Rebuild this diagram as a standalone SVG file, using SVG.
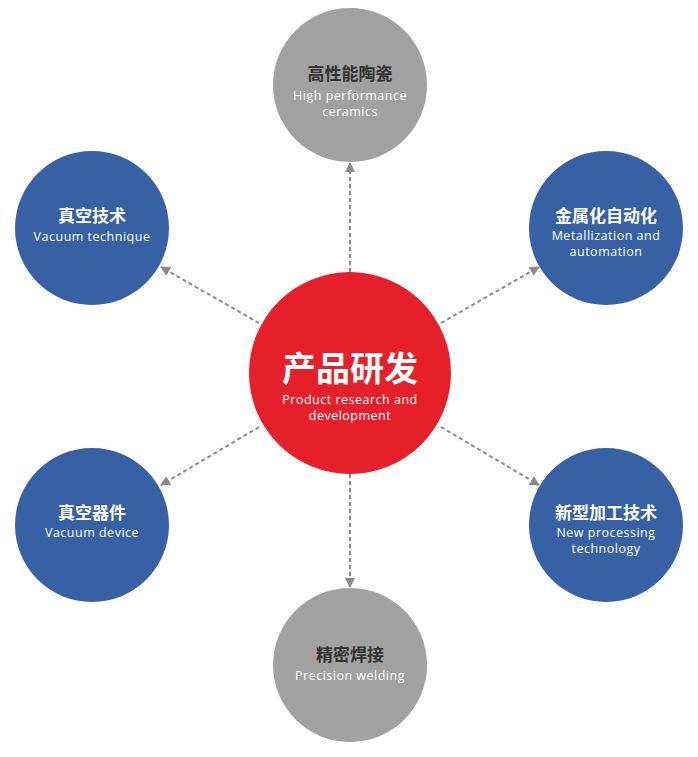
<svg xmlns="http://www.w3.org/2000/svg" width="698" height="757" viewBox="0 0 698 757">
<style>
.b{fill:#3760a5}.g{fill:#a1a1a1}.r{fill:#e5202b}
.cn{font-family:"Noto Sans CJK SC",sans-serif;font-weight:bold;fill:#fff;text-anchor:middle}
.cg{fill:#333}
.en{font-family:"Open Sans","Noto Sans",sans-serif;fill:#fff;text-anchor:middle;font-size:12.5px;letter-spacing:0.5px}
.ln{stroke:#8a8a8a;stroke-width:2;stroke-dasharray:4,3;fill:none;marker-end:url(#a)}
</style>
<defs><marker id="a" viewBox="0 0 10 10" refX="9" refY="5" markerWidth="5" markerHeight="5" orient="auto"><path d="M0,0L10,5L0,10z" fill="#8a8a8a"/></marker></defs>
<rect width="698" height="757" fill="#fff"/>
<g id="connectors">
<path class="ln" d="M350,272V163"/>
<path class="ln" d="M350,474V587"/>
<path class="ln" d="M259,323L161,267"/>
<path class="ln" d="M441,323L539,267"/>
<path class="ln" d="M259,427L161,485"/>
<path class="ln" d="M441,427L539,485"/>
</g>
<g id="center"><circle class="r" cx="350" cy="373" r="101"/>
<text class="cn" x="350" y="381" font-size="34">产品研发</text>
<text class="en" x="350" y="404">Product research and</text>
<text class="en" x="350" y="420">development</text></g>
<g id="top"><circle class="g" cx="350" cy="85" r="77"/>
<text class="cn cg" x="350" y="80" font-size="17">高性能陶瓷</text>
<text class="en" x="350" y="100">High performance</text>
<text class="en" x="350" y="116">ceramics</text></g>
<g id="bottom"><circle class="g" cx="350" cy="665" r="77"/>
<text class="cn cg" x="350" y="661" font-size="17">精密焊接</text>
<text class="en" x="350" y="680">Precision welding</text></g>
<g id="lt"><circle class="b" cx="92" cy="228" r="77"/>
<text class="cn" x="92" y="222" font-size="17">真空技术</text>
<text class="en" x="92" y="241">Vacuum technique</text></g>
<g id="rt"><circle class="b" cx="606" cy="228" r="77"/>
<text class="cn" x="606" y="222" font-size="17">金属化自动化</text>
<text class="en" x="606" y="240">Metallization and</text>
<text class="en" x="606" y="256">automation</text></g>
<g id="lb"><circle class="b" cx="92" cy="525" r="77"/>
<text class="cn" x="92" y="519" font-size="17">真空器件</text>
<text class="en" x="92" y="537">Vacuum device</text></g>
<g id="rb"><circle class="b" cx="606" cy="525" r="77"/>
<text class="cn" x="606" y="519" font-size="17">新型加工技术</text>
<text class="en" x="606" y="537">New processing</text>
<text class="en" x="606" y="553">technology</text></g>
</svg>
